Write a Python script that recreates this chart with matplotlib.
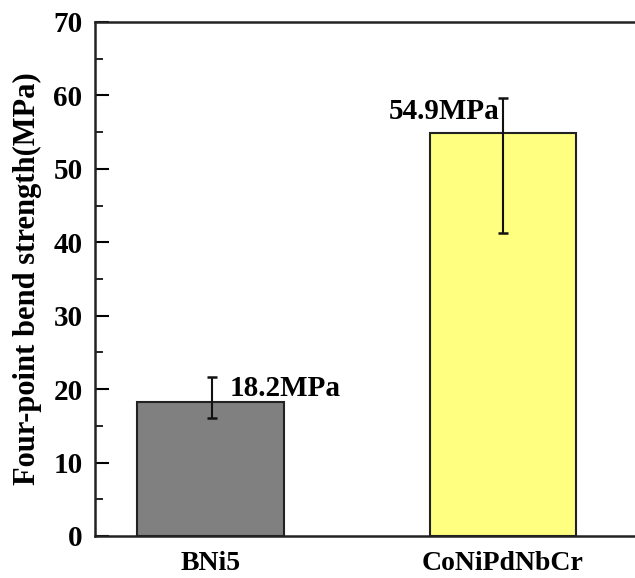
import numpy as np
import matplotlib.pyplot as plt
from matplotlib.ticker import MultipleLocator

categories = ['BNi5', 'CoNiPdNbCr']
strength = [18.2, 54.9]
err_low = [2.1, 13.6]
err_high = [3.4, 4.8]
labels = ['18.2MPa', '54.9MPa']
colors = ['#808080', '#ffff80']

plt.rcParams['font.family'] = ['Liberation Serif', 'DejaVu Serif']
plt.rcParams['font.weight'] = 'bold'

fig = plt.figure(figsize=(6.35, 5.78), dpi=100)
ax = fig.add_axes([95 / 635, 1 - 536 / 578, (649 - 95) / 635, (536 - 22) / 578])

x = np.arange(len(categories))
ax.bar(x, strength, width=0.5, color=colors, edgecolor='#222222', linewidth=1.5)
ax.errorbar(x + np.array([0.006, 0.0]), strength, yerr=[err_low, err_high], fmt='none',
            ecolor='#111111', elinewidth=1.5, capsize=3.6, capthick=1.8)

ax.text(x[0] + 0.065, strength[0] + err_high[0] - 1.5, labels[0], fontsize=21,
        fontweight='bold', ha='left', va='center')
ax.text(x[1] - 0.012, strength[1] + 2.9, labels[1], fontsize=21,
        fontweight='bold', ha='right', va='center')

ax.set_xlim(-0.395, 1.5)
ax.set_ylim(0, 70)
ax.set_xticks(x)
ax.set_xticklabels(categories, fontsize=20, fontweight='bold')
ax.tick_params(axis='x', length=0, pad=11)
ax.yaxis.set_major_locator(MultipleLocator(10))
ax.yaxis.set_minor_locator(MultipleLocator(5))
ax.tick_params(axis='y', which='major', direction='in', length=10, width=1.5,
               labelsize=21, pad=9)
ax.tick_params(axis='y', which='minor', direction='in', length=6, width=1.2)
for lab in ax.get_yticklabels():
    lab.set_fontweight('bold')
for sp in ax.spines.values():
    sp.set_linewidth(1.8)
    sp.set_color('#222222')

ax.set_ylabel('Four-point bend strength(MPa)', fontsize=22, fontweight='bold', labelpad=8)

fig.savefig('out.png', dpi=100)
